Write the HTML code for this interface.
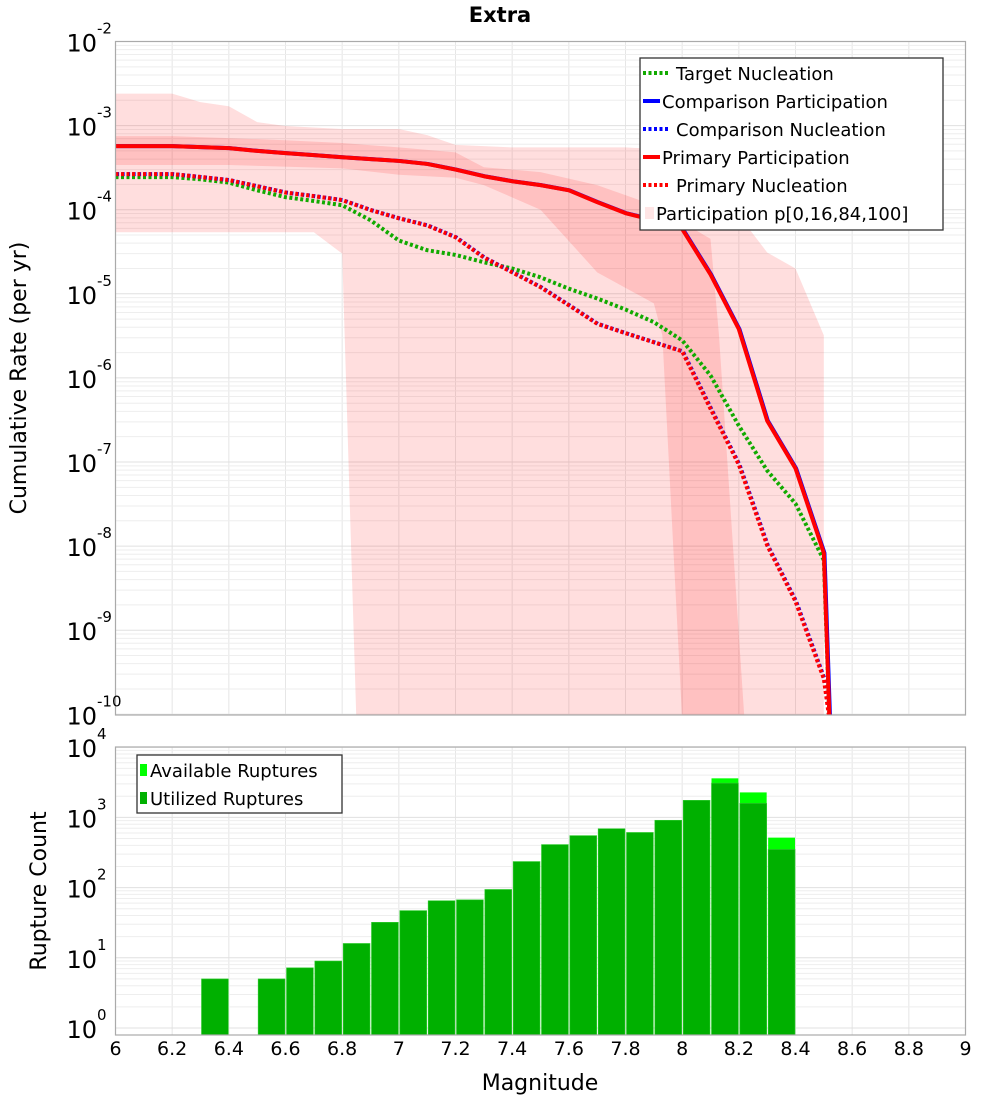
<!DOCTYPE html>
<html><head><meta charset="utf-8"><style>
body{margin:0;background:#fff;}
svg text{font-family:"DejaVu Sans","Liberation Sans",sans-serif;}
</style></head><body>
<svg id="c" width="1000" height="1100" xmlns="http://www.w3.org/2000/svg">
<text x="500" y="22" text-anchor="middle" font-size="21" font-weight="bold">Extra</text>
<g id="topG"></g>
<g id="botG"></g>
<text transform="translate(26,378) rotate(-90)" text-anchor="middle" font-size="22">Cumulative Rate (per yr)</text>
<text transform="translate(46,891) rotate(-90)" text-anchor="middle" font-size="22">Rupture Count</text>
<text x="540" y="1090" text-anchor="middle" font-size="22">Magnitude</text>
</svg>
<script>
// ---- data ----
const mags = [6.0,6.1,6.2,6.3,6.4,6.5,6.6,6.7,6.8,6.9,7.0,7.1,7.2,7.3,7.4,7.5,7.6,7.7,7.8,7.9,8.0,8.1,8.2,8.3,8.4,8.5];
const primaryPart = [5.7e-4,5.7e-4,5.7e-4,5.55e-4,5.4e-4,5.0e-4,4.7e-4,4.45e-4,4.2e-4,4.0e-4,3.8e-4,3.5e-4,3.0e-4,2.5e-4,2.18e-4,1.96e-4,1.7e-4,1.23e-4,9.1e-5,7.5e-5,5.9e-5,1.7e-5,3.8e-6,3.1e-7,8.4e-8,8.3e-9];
const primaryNucl = [2.65e-4,2.65e-4,2.65e-4,2.45e-4,2.25e-4,1.9e-4,1.6e-4,1.45e-4,1.3e-4,9.9e-5,7.9e-5,6.5e-5,4.7e-5,2.7e-5,1.8e-5,1.2e-5,7.3e-6,4.4e-6,3.4e-6,2.65e-6,2.07e-6,4.3e-7,9.3e-8,1.02e-8,2.2e-9,2.65e-10];
const targetNucl = [2.44e-4,2.44e-4,2.44e-4,2.3e-4,2.1e-4,1.7e-4,1.41e-4,1.27e-4,1.13e-4,7.5e-5,4.3e-5,3.3e-5,2.9e-5,2.37e-5,2.0e-5,1.57e-5,1.15e-5,8.8e-6,6.5e-6,4.6e-6,2.8e-6,1.07e-6,2.7e-7,7.9e-8,3.2e-8,6.8e-9];
const endMag = 8.52, floorRate = 1e-11;
const outerUpM = [6.0,6.2,6.3,6.4,6.5,6.6,6.8,7.0,7.1,7.2,7.4,7.6,7.8,8.0,8.1,8.2,8.3,8.4,8.5,8.5];
const outerUp = [2.4e-3,2.4e-3,1.9e-3,1.7e-3,1.1e-3,9.9e-4,9.1e-4,9.1e-4,7.7e-4,5.9e-4,5.5e-4,5.5e-4,5.5e-4,5.1e-4,2.95e-4,8.6e-5,3.1e-5,2.0e-5,3.2e-6,1e-11];
const outerLoM = [6.0,6.7,6.8,6.85];
const outerLo = [5.4e-5,5.4e-5,3.0e-5,1e-11];
const innerUpM = [6.0,6.2,6.4,6.6,6.8,7.0,7.2,7.3,7.5,7.7,7.9,8.1,8.13,8.22];
const innerUp = [7.5e-4,7.5e-4,7.1e-4,6.7e-4,6.2e-4,5.5e-4,4.8e-4,3.2e-4,2.8e-4,1.96e-4,1.13e-4,4.5e-5,3.2e-6,1e-11];
const innerLoM = [6.0,6.4,6.8,7.0,7.2,7.3,7.5,7.7,7.9,7.93,8.0];
const innerLo = [3.4e-4,3.4e-4,3.1e-4,2.6e-4,2.4e-4,1.96e-4,1.0e-4,1.8e-5,7.7e-6,3.2e-6,1e-11];
const binMags = [6.35,6.55,6.65,6.75,6.85,6.95,7.05,7.15,7.25,7.35,7.45,7.55,7.65,7.75,7.85,7.95,8.05,8.15,8.25,8.35];
const utilized = [5,5,7.2,9,16,32,47,65,67,94,235,410,550,690,610,910,1750,3080,1590,350];
const available = [5,5,7.2,9,16,32,47,65,67,94,235,410,550,690,610,910,1750,3600,2270,515];
const xTicks = ["6","6.2","6.4","6.6","6.8","7","7.2","7.4","7.6","7.8","8","8.2","8.4","8.6","8.8","9"];
const topExp = ["-2","-3","-4","-5","-6","-7","-8","-9","-10"];
const botExp = ["4","3","2","1","0"];

// ---- axes ----
const L=115.5, R=965.5;
const X = m => L + (m-6)/3*(R-L);
const T0=41.5, TB=715;
const Yt = v => Math.min(TB+5, T0 + (-2 - Math.log10(v))*84.1);
const B0=1028, BT=747, BB=1035;
const Yb = v => B0 - Math.log10(v)*70.2;
const NS="http://www.w3.org/2000/svg";
function mk(p,tag,attrs){const e=document.createElementNS(NS,tag);for(const k in attrs)e.setAttribute(k,attrs[k]);p.appendChild(e);return e;}
const svgEl=document.getElementById('c');
const topG=document.getElementById('topG'), botG=document.getElementById('botG');

const defs=mk(svgEl,'defs',{});
const cp=mk(defs,'clipPath',{id:'ct'}); mk(cp,'rect',{x:L,y:T0,width:R-L,height:TB-T0});

function grids(g,y0,y1,ylines){
  for(let i=0;i<=15;i++){const x=X(6+i*0.2);const l=mk(g,'line',{x1:x,x2:x,y1:y0,y2:y1,stroke:'#e6e6e6','stroke-width':1});
  
  }
  ylines.forEach(([y,maj])=>{const l=mk(g,'line',{x1:L,x2:R,y1:y,y2:y,stroke:maj?'#e0e0e0':'#eeeeee','stroke-width':1});
  
  });
}
let yl=[];for(let d=-10;d<=-2;d++){yl.push([Yt(Math.pow(10,d)),true]);if(d<-2)for(let k=2;k<10;k++)yl.push([Yt(k*Math.pow(10,d)),false]);}
grids(topG,T0,TB,yl);
yl=[];for(let d=0;d<=4;d++){yl.push([Yb(Math.pow(10,d)),true]);if(d<4)for(let k=2;k<10;k++)yl.push([Yb(k*Math.pow(10,d)),false]);}
grids(botG,BT,BB,yl);

const cg=mk(topG,'g',{'clip-path':'url(#ct)'});
function band(upM,up,loM,lo,name){
  let pts=upM.map((m,i)=>X(m)+','+Yt(up[i]));
  for(let i=loM.length-1;i>=0;i--)pts.push(X(loM[i])+','+Yt(lo[i]));
  const p=mk(cg,'polygon',{points:pts.join(' '),fill:'#ff0000','fill-opacity':0.13});
  
  
}
band(outerUpM,outerUp,outerLoM,outerLo,'band-p0-p100');
band(innerUpM,innerUp,innerLoM,innerLo,'band-p16-p84');
function line(vals,color,dash,name,dx){
  const pts=mags.map((m,i)=>(X(m)+dx)+','+Yt(vals[i])); pts.push((X(endMag)+dx)+','+Yt(floorRate));
  const a={points:pts.join(' '),fill:'none',stroke:color,'stroke-width':4,'stroke-linejoin':'round'};
  if(dash)a['stroke-dasharray']='3,2.5';
  const p=mk(cg,'polyline',a);
  
  
}
line(targetNucl,'#11aa00',true,'target-nucleation-line',0);
line(primaryPart,'#0000ff',false,'comparison-participation-line',0.6);
line(primaryNucl,'#0000ff',true,'comparison-nucleation-line',0.6);
line(primaryPart,'#ff0000',false,'primary-participation-line',0);
line(primaryNucl,'#ff0000',true,'primary-nucleation-line',0);

binMags.forEach((m,i)=>{
  const x0=X(m-0.05)+1, w=X(m+0.05)-X(m-0.05)-1.5;
  const a=mk(botG,'rect',{x:x0,y:Yb(available[i]),width:w,height:BB-Yb(available[i]),fill:'#00ff00'});
  
  
  const u=mk(botG,'rect',{x:x0,y:Yb(utilized[i]),width:w,height:BB-Yb(utilized[i]),fill:'#00b000',stroke:'#33cc33','stroke-width':0.6});
  
  
});

[[T0,TB],[BT,BB]].forEach(([a,b])=>{const r=mk(svgEl,'rect',{x:L,y:a,width:R-L,height:b-a,fill:'none',stroke:'#aaaaaa','stroke-width':1.2});

});

xTicks.forEach((t,i)=>{const e=mk(svgEl,'text',{x:X(6+i*0.2),y:1055,'text-anchor':'middle','font-size':19});e.textContent=t;

});
function expLabel(y,exp,name){
  const e=mk(svgEl,'text',{x:97,y:y+10,'text-anchor':'end','font-size':24});e.textContent='10';
  
  
  const s=mk(svgEl,'text',{x:97,y:y-8,'font-size':15});s.textContent=exp;
  
  
}
topExp.forEach((e,i)=>expLabel(T0+i*84.1,e,'y-tick-label-top'));
botExp.forEach((e,i)=>expLabel(Yb(Math.pow(10,4-i)),e,'y-tick-label-bottom'));

function legendBox(x,y,w,h,name){const r=mk(svgEl,'rect',{x:x,y:y,width:w,height:h,fill:'#fff',stroke:'#333','stroke-width':1.3});

}
legendBox(640,58,303,172,'legend-top');
const lg=[['Target Nucleation','#11aa00',true,676],['Comparison Participation','#0000ff',false,662],['Comparison Nucleation','#0000ff',true,676],['Primary Participation','#ff0000',false,662],['Primary Nucleation','#ff0000',true,676],['Participation p[0,16,84,100]',null,false,656]];
lg.forEach((d,i)=>{const y=73+i*28;
  if(d[1]){const a={x1:643,x2:d[2]?670:660,y1:y,y2:y,stroke:d[1],'stroke-width':4};if(d[2])a['stroke-dasharray']='3,2.5';const l=mk(svgEl,'line',a);
  
  }
  else{const r=mk(svgEl,'rect',{x:645,y:y-6,width:9,height:12,fill:'#ff0000','fill-opacity':0.1});
  
  }
  const t=mk(svgEl,'text',{x:d[3],y:y+7,'font-size':18});t.textContent=d[0];
  
  
});
legendBox(137,755,205,58,'legend-bottom');
[['Available Ruptures','#00ff00'],['Utilized Ruptures','#00b000']].forEach((d,i)=>{const y=770+i*28;
  const r=mk(svgEl,'rect',{x:140,y:y-6,width:7,height:12,fill:d[1]});
  
  
  const t=mk(svgEl,'text',{x:150,y:y+7,'font-size':18});t.textContent=d[0];
  
  
});
</script>
</body></html>
